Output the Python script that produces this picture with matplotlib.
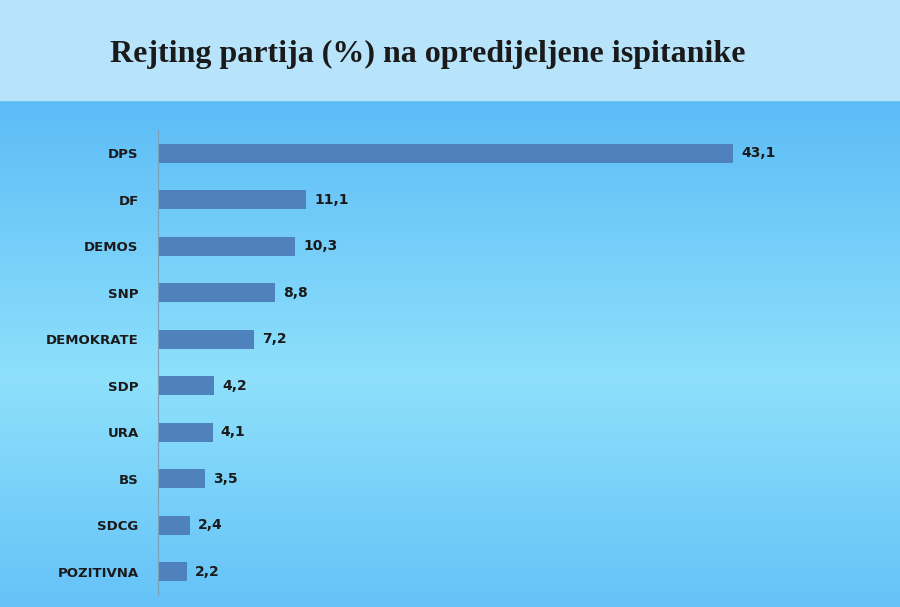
import matplotlib.pyplot as plt
import numpy as np

parties = ['DPS', 'DF', 'DEMOS', 'SNP', 'DEMOKRATE', 'SDP', 'URA', 'BS', 'SDCG', 'POZITIVNA']
values = [43.1, 11.1, 10.3, 8.8, 7.2, 4.2, 4.1, 3.5, 2.4, 2.2]

fig = plt.figure(figsize=(9, 6.07), dpi=100)

# background: title band + vertical gradient
bg = fig.add_axes([0, 0, 1, 1], zorder=-10)
bg.set_axis_off()
t = np.linspace(0, 1, 256)
top = np.array([0x5c, 0xbc, 0xf7]) / 255
mid = np.array([0x8e, 0xe0, 0xfb]) / 255
w = np.clip(1 - np.abs(t - 0.55) / 0.55, 0, 1)[:, None]
grad = top * (1 - w) + mid * w
bg.imshow(grad[:, None, :], aspect='auto', extent=[0, 1, 0, 1 - 100 / 607], origin='upper')
bg.fill_between([0, 1], 1 - 100 / 607, 1, color='#b8e4fb')
bg.set_xlim(0, 1)
bg.set_ylim(0, 1)

fig.text(0.475, 0.91, 'Rejting partija (%) na opredijeljene ispitanike',
         ha='center', va='center', fontsize=23, fontweight='bold',
         family='Liberation Serif', color='#1a1a1a')

ax = fig.add_axes([158 / 900, 12 / 607, 722 / 900, 465 / 607])
ax.patch.set_alpha(0)
y = np.arange(len(parties))
ax.barh(y, values, height=0.4, color='#4f81bd')
for yi, v in zip(y, values):
    ax.text(v + 0.6, yi, f'{v:.1f}'.replace('.', ','), va='center', ha='left',
            fontsize=10, fontweight='bold', color='#1a1a1a')
ax.set_yticks(y)
ax.set_yticklabels(parties, fontsize=9.5, fontweight='bold', color='#1a1a1a')
ax.set_ylim(len(parties) - 0.5, -0.5)
ax.set_xlim(0, 54.1)
ax.set_xticks([])
for s in ['top', 'right', 'bottom']:
    ax.spines[s].set_visible(False)
ax.spines['left'].set_color('#7f9fb8')
ax.tick_params(axis='y', length=0, pad=14)

fig.savefig('out.png', dpi=100)
